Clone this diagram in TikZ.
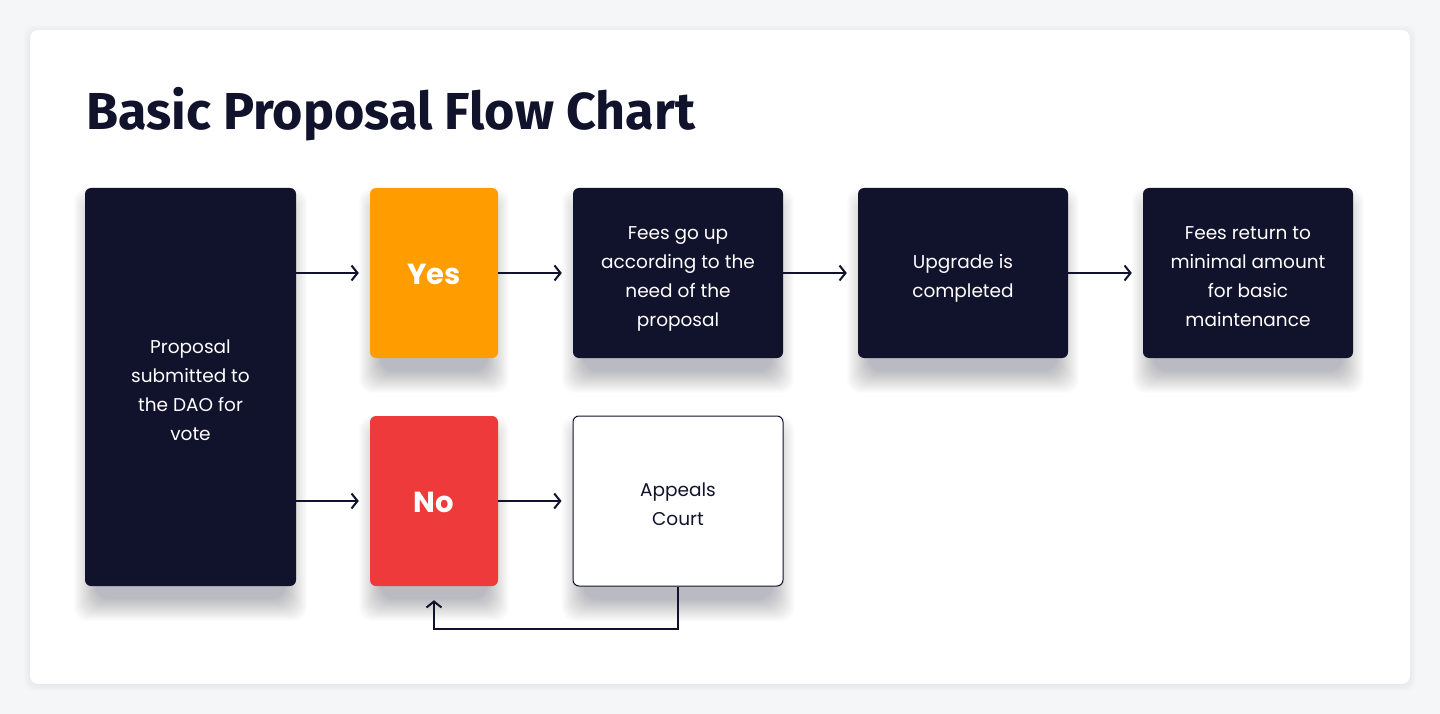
\documentclass[tikz,border=0pt]{standalone}
\usepackage{fontspec}
\setmainfont{Poppins}
\newfontfamily\titlefont{Fira Sans}
\usetikzlibrary{arrows.meta,calc,backgrounds}
\definecolor{pagebg}{HTML}{F5F6F8}
\definecolor{ink}{HTML}{11122C}
\definecolor{orng}{HTML}{FF9C00}
\definecolor{rd}{HTML}{EE3A3A}
\newcommand{\lowered}[1]{\raisebox{-4pt}[\height][\depth]{\begin{tabular}{@{}c@{}}#1\end{tabular}}}
\tikzset{
  boxbase/.style={rounded corners=6pt, inner sep=0pt, align=center,
    font=\fontsize{18.5}{29}\selectfont},
  darkbox/.style={boxbase, fill=ink, text=white},
  yesbox/.style={boxbase, fill=orng, text=white, font=\fontsize{29}{36}\selectfont\bfseries},
  nobox/.style={boxbase, fill=rd, text=white, font=\fontsize{29}{36}\selectfont\bfseries},
  whitebox/.style={boxbase, fill=white, draw=ink, line width=1pt, text=ink},
  arr/.style={draw=ink, line width=2pt, -{Straight Barb[length=6pt,width=15pt,line width=2pt]}},
  shadowlayer/.style={fill=ink, fill opacity=0.0105, rounded corners=14pt}
}
\newcommand{\softshadow}[1]{%
  \foreach \r in {0,1,...,22}{%
    \fill[shadowlayer] ($(#1.north west)+(-\r+11,22-\r)$) rectangle ($(#1.south east)+(\r-11,13+\r)$);
  }%
}
\begin{document}
\begin{tikzpicture}[x=1pt,y=-1pt]
\node[anchor=base west, text=ink, font=\titlefont\fontsize{52}{56}\selectfont\bfseries, inner sep=0pt] (title) at (86,130) {Basic Proposal Flow Chart};
\node[darkbox, minimum width=211pt, minimum height=398pt] (prop) at (190.5,387) {\lowered{Proposal\\submitted to\\the DAO for\\vote}};
\node[yesbox, minimum width=128pt, minimum height=170pt] (yes) at (434,273) {\lowered{Yes}};
\node[nobox, minimum width=128pt, minimum height=170pt] (no) at (434,501) {\lowered{No}};
\node[darkbox, minimum width=210pt, minimum height=170pt] (fees) at (678,273) {\lowered{Fees go up\\according to the\\need of the\\proposal}};
\node[darkbox, minimum width=210pt, minimum height=170pt] (upg) at (963,273) {\lowered{Upgrade is\\completed}};
\node[darkbox, minimum width=210pt, minimum height=170pt] (ret) at (1248,273) {\lowered{Fees return to\\minimal amount\\for basic\\maintenance}};
\node[whitebox, minimum width=210pt, minimum height=170pt] (app) at (678,501) {\lowered{Appeals\\Court}};
\draw[arr] (prop.east |- yes.west) -- ($(yes.west)+(-11,0)$);
\draw[arr] (prop.east |- no.west) -- ($(no.west)+(-11,0)$);
\draw[arr] (yes.east) -- ($(fees.west)+(-11,0)$);
\draw[arr] (no.east) -- ($(app.west)+(-11,0)$);
\draw[arr] (fees.east) -- ($(upg.west)+(-11,0)$);
\draw[arr] (upg.east) -- ($(ret.west)+(-11,0)$);
\coordinate (loop) at ($(app.south)+(0,42)$);
\draw[arr] (app.south) -- (loop) -| ($(no.south)+(0,14)$);
\begin{scope}[on background layer]
\fill[pagebg] (0,0) rectangle (1440,714);
\foreach \r in {0,1,...,6}{\fill[ink, fill opacity=0.006, rounded corners=10pt] (30-\r,31-\r) rectangle (1410+\r,685+\r);}
\fill[white, rounded corners=8pt] (30,30) rectangle (1410,684);
\softshadow{prop}
\softshadow{yes}
\softshadow{no}
\softshadow{fees}
\softshadow{upg}
\softshadow{ret}
\softshadow{app}
\end{scope}
\useasboundingbox (0,0) rectangle (1440,714);
\end{tikzpicture}
\end{document}
